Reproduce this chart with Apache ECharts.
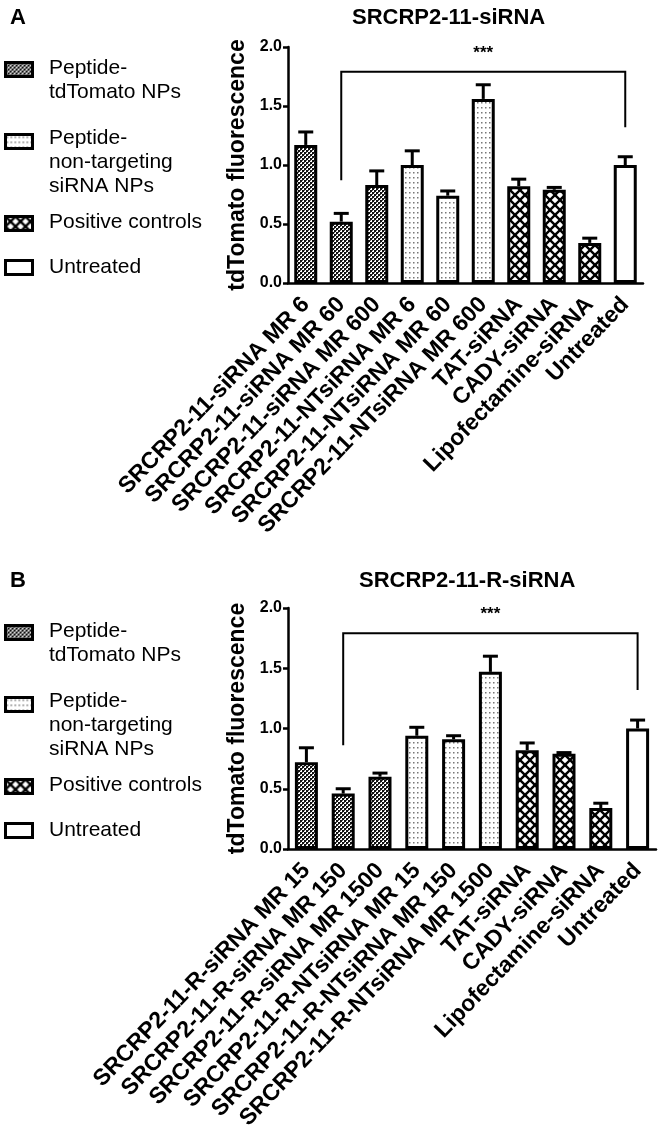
<!DOCTYPE html>
<html>
<head>
<meta charset="utf-8">
<script src="https://cdn.jsdelivr.net/npm/echarts@6/dist/echarts.min.js"></script>
<style>
html,body{margin:0;padding:0;background:#fff;}
#chart{width:660px;height:1137px;}
</style>
</head>
<body>
<div id="chart"></div>
<script>
// ---------- data ----------
const categoriesA = ['SRCRP2-11-siRNA MR 6','SRCRP2-11-siRNA MR 60','SRCRP2-11-siRNA MR 600','SRCRP2-11-NTsiRNA MR 6','SRCRP2-11-NTsiRNA MR 60','SRCRP2-11-NTsiRNA MR 600','TAT-siRNA','CADY-siRNA','Lipofectamine-siRNA','Untreated'];
const meansA  = [1.17, 0.52, 0.83, 1.00, 0.74, 1.56, 0.82, 0.79, 0.34, 1.00];
const errorsA = [0.11, 0.07, 0.12, 0.12, 0.04, 0.12, 0.06, 0.02, 0.04, 0.07];

const categoriesB = ['SRCRP2-11-R-siRNA MR 15','SRCRP2-11-R-siRNA MR 150','SRCRP2-11-R-siRNA MR 1500','SRCRP2-11-R-NTsiRNA MR 15','SRCRP2-11-R-NTsiRNA MR 150','SRCRP2-11-R-NTsiRNA MR 1500','TAT-siRNA','CADY-siRNA','Lipofectamine-siRNA','Untreated'];
const meansB  = [0.72, 0.46, 0.60, 0.94, 0.91, 1.47, 0.82, 0.79, 0.34, 1.00];
const errorsB = [0.12, 0.04, 0.03, 0.07, 0.03, 0.13, 0.06, 0.01, 0.04, 0.07];

// group of each bar: 0 peptide-tdTomato NPs, 1 non-targeting, 2 positive controls, 3 untreated
const groups = [0, 0, 0, 1, 1, 1, 2, 2, 2, 3];
const legendNames = ['Peptide-\ntdTomato NPs', 'Peptide-\nnon-targeting\nsiRNA NPs', 'Positive controls', 'Untreated'];

// significance bracket: [fromIndex, toIndex, bracketY, leftEndY, rightEndY, starsY]
const bracketA = [1, 9, 1.79, 0.87, 1.32, 1.95];
const bracketB = [1, 9, 1.79, 0.86, 1.32, 1.95];

const titleA = 'SRCRP2-11-siRNA';
const titleB = 'SRCRP2-11-R-siRNA';
const yTicks = [0, 0.5, 1.0, 1.5, 2.0];
const yName = 'tdTomato fluorescence';

// ---------- patterns ----------
function makeCanvas(w, h, draw) {
  const c = document.createElement('canvas');
  c.width = w; c.height = h;
  const ctx = c.getContext('2d');
  ctx.fillStyle = '#fff'; ctx.fillRect(0, 0, w, h);
  draw(ctx);
  return c;
}
const checker = makeCanvas(4, 4, ctx => {
  ctx.fillStyle = '#111';
  ctx.fillRect(0, 0, 2, 2); ctx.fillRect(2, 2, 2, 2);
  ctx.fillStyle = '#555';
  ctx.fillRect(2, 0, 1, 1); ctx.fillRect(0, 2, 1, 1);
});
const dots = makeCanvas(4, 5, ctx => {
  ctx.fillStyle = '#777';
  ctx.fillRect(1, 2, 1.5, 1.5);
});
const cross = makeCanvas(10, 10, ctx => {
  ctx.strokeStyle = '#000'; ctx.lineWidth = 2.4;
  for (let k = -10; k <= 10; k += 10) {
    ctx.beginPath(); ctx.moveTo(k, 0); ctx.lineTo(k + 10, 10); ctx.stroke();
    ctx.beginPath(); ctx.moveTo(k + 10, 0); ctx.lineTo(k, 10); ctx.stroke();
  }
});
const fills = [
  { image: checker, repeat: 'repeat' },
  { image: dots, repeat: 'repeat' },
  { image: cross, repeat: 'repeat' },
  '#fff'
];

const FONT = "'Liberation Sans', Arial, Helvetica, sans-serif";

// ---------- builders ----------
function barSeries(means, gi) {
  return {
    type: 'bar', xAxisIndex: gi, yAxisIndex: gi, barWidth: 23, z: 3,
    data: means.map((v, i) => ({
      value: v,
      itemStyle: { color: fills[groups[i]], borderColor: '#000', borderWidth: 3 }
    }))
  };
}
function errorSeries(means, errs, gi) {
  return {
    type: 'custom', xAxisIndex: gi, yAxisIndex: gi, z: 2, silent: true,
    data: means.map((v, i) => [i, v, errs[i]]),
    encode: { x: 0, y: 1 },
    renderItem: function (params, api) {
      const i = api.value(0), m = api.value(1), e = api.value(2);
      const b = api.coord([i, m]);
      const t = api.coord([i, m + e]);
      const st = { stroke: '#000', lineWidth: 3 };
      return {
        type: 'group',
        children: [
          { type: 'line', shape: { x1: b[0], y1: b[1], x2: t[0], y2: t[1] }, style: st },
          { type: 'line', shape: { x1: t[0] - 7.5, y1: t[1], x2: t[0] + 7.5, y2: t[1] }, style: st }
        ]
      };
    }
  };
}
function bracketSeries(br, gi) {
  return {
    type: 'custom', xAxisIndex: gi, yAxisIndex: gi, z: 4, silent: true,
    data: [br],
    encode: { x: [0, 1], y: [2, 3, 4] },
    renderItem: function (params, api) {
      const f = api.value(0), t = api.value(1), y = api.value(2), l = api.value(3), r = api.value(4), s = api.value(5);
      const p1 = api.coord([f, l]), p2 = api.coord([f, y]), p3 = api.coord([t, y]), p4 = api.coord([t, r]);
      const ps = api.coord([(f + t) / 2, s]);
      return {
        type: 'group',
        children: [
          { type: 'polyline', shape: { points: [p1, p2, p3, p4] }, style: { stroke: '#000', lineWidth: 2, fill: null } },
          { type: 'text', x: ps[0], y: ps[1], style: { text: '***', fontSize: 17, fontWeight: 'bold', fontFamily: FONT, fill: '#000', align: 'center', verticalAlign: 'middle' } }
        ]
      };
    }
  };
}
function xAxis(cats, gi) {
  return {
    type: 'category', gridIndex: gi, data: cats,
    axisLine: { lineStyle: { color: '#000', width: 2.5 } },
    axisTick: { alignWithLabel: true, length: 6, lineStyle: { color: '#000', width: 2.5 } },
    axisLabel: { rotate: 46, interval: 0, margin: 18, color: '#000', fontWeight: 'bold', fontSize: 23, fontFamily: FONT }
  };
}
function yAxis(gi) {
  return {
    type: 'value', gridIndex: gi, min: yTicks[0], max: yTicks[yTicks.length - 1], interval: 0.5,
    name: yName, nameLocation: 'middle', nameRotate: 90, nameGap: 33,
    nameTextStyle: { color: '#000', fontWeight: 'bold', fontSize: 23, fontFamily: FONT },
    axisLine: { show: true, lineStyle: { color: '#000', width: 2.5 } },
    axisTick: { show: true, length: 5, lineStyle: { color: '#000', width: 2.5 } },
    splitLine: { show: false },
    axisLabel: { color: '#000', fontWeight: 'bold', fontSize: 16, fontFamily: FONT, margin: 6, formatter: v => v.toFixed(1) }
  };
}
function legendGraphics(offsetY) {
  const iconY = [61, 133, 215, 259];
  const textY = [56, 126, 210, 255];
  const els = [];
  for (let g = 0; g < 4; g++) {
    els.push({ type: 'rect', left: 4, top: iconY[g] + offsetY, shape: { width: 27, height: 14 },
      style: { fill: fills[g], stroke: '#000', lineWidth: 3 } });
    els.push({ type: 'text', left: 49, top: textY[g] + offsetY,
      style: { text: legendNames[g], fontSize: 21, lineHeight: 24, fontFamily: FONT, fill: '#000' } });
  }
  return els;
}

const chart = echarts.init(document.getElementById('chart'), null, { renderer: 'canvas' });
chart.setOption({
  animation: false,
  backgroundColor: '#fff',
  title: [
    { text: 'A', left: 5, top: 2, textStyle: { fontSize: 22, fontWeight: 'bold', fontFamily: FONT, color: '#000' } },
    { text: titleA, left: 347, top: 2, textStyle: { fontSize: 22, fontWeight: 'bold', fontFamily: FONT, color: '#000' } },
    { text: 'B', left: 5, top: 565, textStyle: { fontSize: 22, fontWeight: 'bold', fontFamily: FONT, color: '#000' } },
    { text: titleB, left: 354, top: 565, textStyle: { fontSize: 22, fontWeight: 'bold', fontFamily: FONT, color: '#000' } }
  ],
  grid: [
    { left: 288, top: 47, width: 355, height: 236, containLabel: false, outerBoundsMode: 'none' },
    { left: 288, top: 608, width: 368, height: 241, containLabel: false, outerBoundsMode: 'none' }
  ],
  xAxis: [xAxis(categoriesA, 0), xAxis(categoriesB, 1)],
  yAxis: [yAxis(0), yAxis(1)],
  series: [
    errorSeries(meansA, errorsA, 0), barSeries(meansA, 0), bracketSeries(bracketA, 0),
    errorSeries(meansB, errorsB, 1), barSeries(meansB, 1), bracketSeries(bracketB, 1)
  ],
  graphic: legendGraphics(0).concat(legendGraphics(563))
});
</script>
</body>
</html>
